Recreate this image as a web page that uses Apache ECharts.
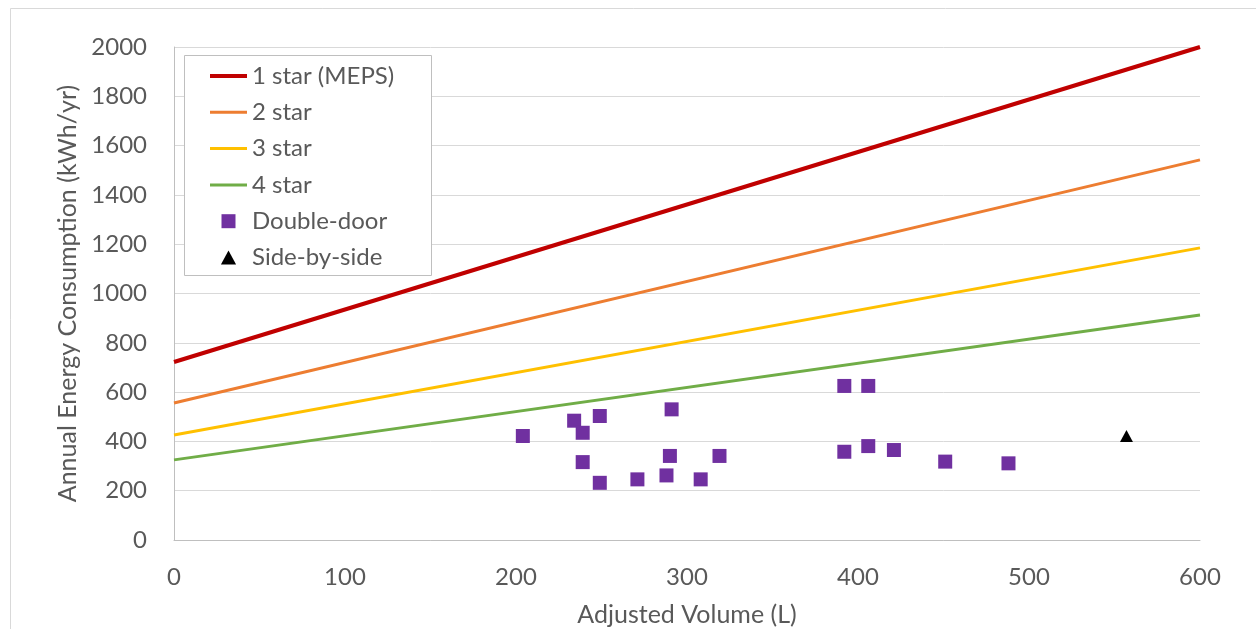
<!DOCTYPE html>
<html><head><meta charset="utf-8">
<script src="https://cdn.jsdelivr.net/npm/echarts@6/dist/echarts.min.js"></script>
<style>html,body{margin:0;padding:0;background:#fff}#c{width:1256px;height:629px}</style>
</head><body><div id="c"></div>
<script>
// Star rating lines: endpoints at volume 0 and 600 L
const lineVolumes = [0, 600];
const star1 = [722, 2000];
const star2 = [556, 1542];
const star3 = [426, 1185];
const star4 = [325, 913];
// Double-door models
const ddVolume = [204, 234, 249, 239, 291, 239, 249, 271, 288, 290, 308, 319, 392, 406, 392, 406, 421, 451, 488];
const ddEnergy = [422, 484, 503, 435, 530, 316, 232, 246, 262, 341, 246, 341, 625, 625, 358, 381, 365, 318, 311];
// Side-by-side models
const sbsVolume = [557];
const sbsEnergy = [422];
const yTicks = [0, 200, 400, 600, 800, 1000, 1200, 1400, 1600, 1800, 2000];
const xTicks = [0, 100, 200, 300, 400, 500, 600];

const pair = (xs, ys) => xs.map((x, i) => [x, ys[i]]);
const font = 'Lato, "Open Sans", sans-serif';
const txt = '#595959';
const lineIcon = h => 'path://M0,0L37,0L37,' + h + 'L0,' + h + 'Z';

const chart = echarts.init(document.getElementById('c'), null, {renderer: 'canvas'});
chart.setOption({
  animation: false,
  backgroundColor: '#fff',
  textStyle: {fontFamily: font},
  grid: {left: 174, right: 56, top: 47, bottom: 89, outerBoundsMode: 'none', containLabel: false},
  graphic: [
    {type: 'rect', shape: {x: 10.5, y: 8.5, width: 1260, height: 640}, style: {fill: 'none', stroke: '#d9d9d9', lineWidth: 1}, z: 0},
    {type: 'rect', shape: {x: 184.5, y: 55.5, width: 247, height: 220}, style: {fill: '#fff', stroke: '#bfbfbf', lineWidth: 1}, z: 10}
  ],
  legend: {
    orient: 'vertical', left: 184, top: 55, z: 20,
    padding: [9, 10, 6, 26], itemGap: 12.3, itemWidth: 37, itemHeight: 14,
    textStyle: {fontSize: 24, color: txt, fontFamily: font, lineHeight: 24},
    data: [
      {name: '1 star (MEPS)', icon: lineIcon(4)},
      {name: '2 star', icon: lineIcon(3)},
      {name: '3 star', icon: lineIcon(3)},
      {name: '4 star', icon: lineIcon(3)},
      {name: 'Double-door', icon: 'path://M0,0L14,0L14,14L0,14Z'},
      {name: 'Side-by-side', icon: 'path://M6.5,0L13,12L0,12Z'}
    ]
  },
  xAxis: {
    type: 'value', min: 0, max: 600, interval: 100,
    name: 'Adjusted Volume (L)', nameLocation: 'middle', nameGap: 62,
    nameTextStyle: {fontSize: 25, color: txt, fontFamily: font},
    axisLine: {show: true, lineStyle: {color: '#bfbfbf', width: 1}},
    axisTick: {show: false},
    axisLabel: {fontSize: 24, color: txt, margin: 25, fontFamily: font, formatter: v => xTicks.includes(v) ? String(v) : ''},
    splitLine: {show: false}
  },
  yAxis: {
    type: 'value', min: 0, max: 2000, interval: 200,
    name: 'Annual Energy Consumption (kWh/yr)', nameLocation: 'middle', nameGap: 91,
    nameTextStyle: {fontSize: 25, color: txt, fontFamily: font},
    axisLine: {show: true, lineStyle: {color: '#bfbfbf', width: 1}},
    axisTick: {show: false},
    axisLabel: {fontSize: 24, color: txt, margin: 27, fontFamily: font, formatter: v => yTicks.includes(v) ? String(v) : ''},
    splitLine: {show: true, lineStyle: {color: '#d9d9d9', width: 1}}
  },
  series: [
    {name: '1 star (MEPS)', type: 'line', data: pair(lineVolumes, star1), showSymbol: false, symbol: 'none', lineStyle: {color: '#C00000', width: 4}, itemStyle: {color: '#C00000'}},
    {name: '2 star', type: 'line', data: pair(lineVolumes, star2), showSymbol: false, symbol: 'none', lineStyle: {color: '#ED7D31', width: 3}, itemStyle: {color: '#ED7D31'}},
    {name: '3 star', type: 'line', data: pair(lineVolumes, star3), showSymbol: false, symbol: 'none', lineStyle: {color: '#FFC000', width: 3}, itemStyle: {color: '#FFC000'}},
    {name: '4 star', type: 'line', data: pair(lineVolumes, star4), showSymbol: false, symbol: 'none', lineStyle: {color: '#70AD47', width: 3}, itemStyle: {color: '#70AD47'}},
    {name: 'Double-door', type: 'scatter', data: pair(ddVolume, ddEnergy), symbol: 'rect', symbolSize: 14, itemStyle: {color: '#7030A0', opacity: 1}},
    {name: 'Side-by-side', type: 'scatter', data: pair(sbsVolume, sbsEnergy), symbol: 'triangle', symbolSize: [13, 12], itemStyle: {color: '#000', opacity: 1}}
  ]
});
</script></body></html>
